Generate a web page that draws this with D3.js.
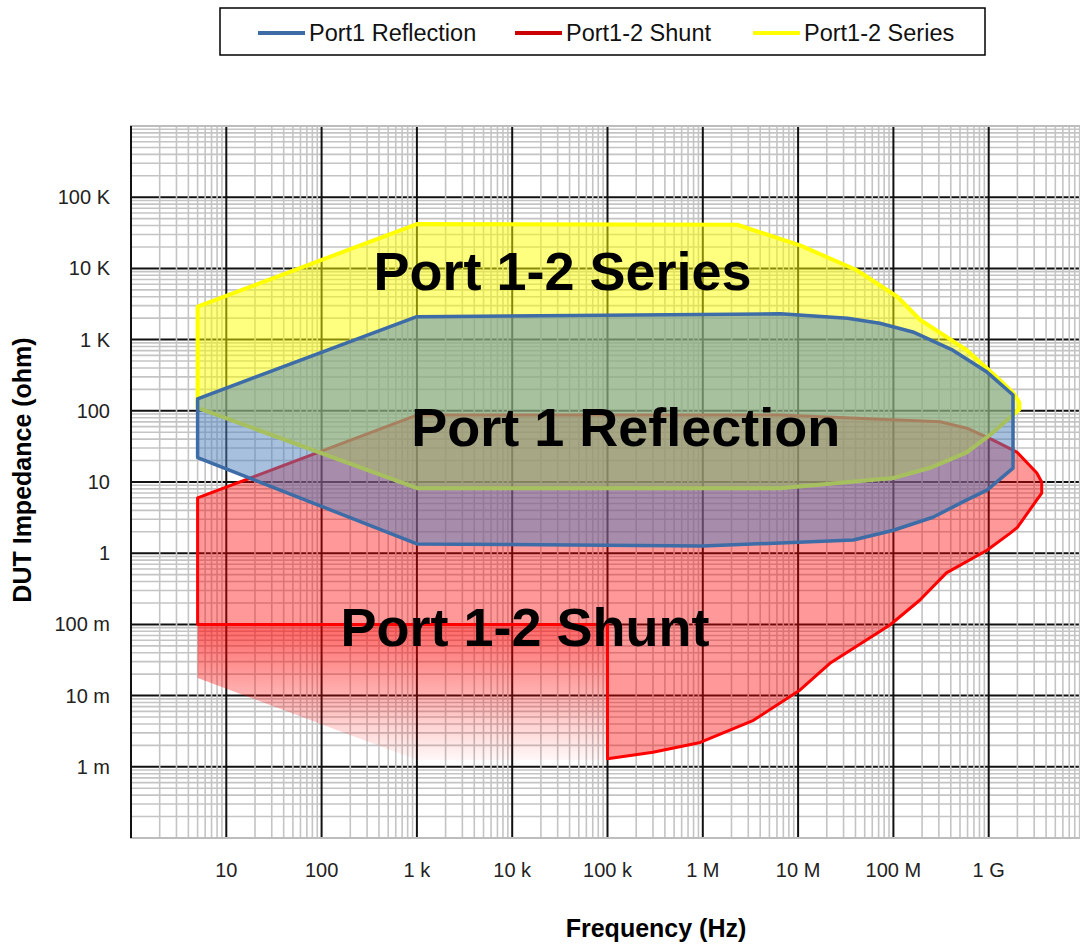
<!DOCTYPE html>
<html>
<head>
<meta charset="utf-8">
<script src="https://cdn.jsdelivr.net/npm/d3@7"></script>
<style>
  body { margin: 0; background: #fff; }
  svg { display: block; }
  text { font-family: "Liberation Sans", Arial, sans-serif; }
</style>
</head>
<body>
<svg id="chart" width="1080" height="945"></svg>
<script>
// Axis ticks
const freqTicks = [10, 100, 1e3, 1e4, 1e5, 1e6, 1e7, 1e8, 1e9];
const freqTickLabels = ["10", "100", "1 k", "10 k", "100 k", "1 M", "10 M", "100 M", "1 G"];
const impTicks = [1e5, 1e4, 1e3, 100, 10, 1, 0.1, 0.01, 0.001];
const impTickLabels = ["100 K", "10 K", "1 K", "100", "10", "1", "100 m", "10 m", "1 m"];

// Port1-2 Series coverage (Hz, ohm), traced around the outline
const seriesFreq = [5, 1000, 2.3e6, 1.05e7, 4.1e7, 1.1e8, 1.9e8, 5.9e8, 1.2e9, 1.8e9, 2.1e9, 2.1e9, 1.7e9, 1.1e9, 5.9e8, 2.4e8, 1e8, 6.5e6, 1000, 5];
const seriesImp  = [2900, 42000, 41000, 21000, 9500, 4000, 1900, 710, 300, 180, 130, 105, 82, 49, 26, 15.7, 11.4, 8.2, 8.2, 110];

// Port1 Reflection coverage
const reflFreq = [5, 1000, 6.5e6, 3.3e7, 7.2e7, 1.6e8, 4.2e8, 9.6e8, 1.8e9, 1.8e9, 9.6e8, 5.9e8, 2.6e8, 1e8, 3.8e7, 1e6, 1000, 5];
const reflImp  = [147, 2100, 2300, 2000, 1700, 1280, 710, 350, 167, 15.7, 7.7, 5.6, 3.2, 2.1, 1.53, 1.26, 1.35, 22];

// Port1-2 Shunt coverage
const shuntFreq = [5, 1000, 6.5e6, 3.1e8, 5.9e8, 1.1e9, 1.8e9, 2.0e9, 3.2e9, 3.6e9, 3.6e9, 3.2e9, 2.0e9, 1.67e9, 9.6e8, 3.6e8, 1.9e8, 9.2e7, 2.2e7, 1.05e7, 3.4e6, 9.4e5, 3.0e5, 1e5, 1e5, 5];
const shuntImp  = [6, 87, 87, 70, 57, 39, 28, 26, 13.4, 10, 7, 5.6, 2.3, 1.9, 1.1, 0.53, 0.22, 0.098, 0.029, 0.012, 0.0045, 0.0022, 0.0016, 0.0013, 0.1, 0.1];

// Extended (faded) Shunt range below 100 mohm
const shuntExtFreq = [5, 1e5, 1e5, 1000, 5];
const shuntExtImp  = [0.1, 0.1, 0.00125, 0.00125, 0.0177];

const legendNames = ["Port1 Reflection", "Port1-2 Shunt", "Port1-2 Series"];

const svg = d3.select("#chart");
const plot = { left: 131, right: 1084, top: 126, bottom: 838 };

const x = d3.scaleLog().domain([1, 1e10]).range([plot.left, plot.right]);
const y = d3.scaleLog().domain([1e-4, 1e6]).range([plot.bottom, plot.top]);

const defs = svg.append("defs");
defs.append("clipPath").attr("id", "plotClip")
  .append("rect")
  .attr("x", plot.left).attr("y", plot.top)
  .attr("width", plot.right - plot.left).attr("height", plot.bottom - plot.top);

const grad = defs.append("linearGradient")
  .attr("id", "shuntFade").attr("x1", 0).attr("y1", 0).attr("x2", 0).attr("y2", 1);
grad.append("stop").attr("offset", "0%").attr("stop-color", "#ff0000").attr("stop-opacity", 0.6);
grad.append("stop").attr("offset", "100%").attr("stop-color", "#ff0000").attr("stop-opacity", 0.03);

// Grid
const grid = svg.append("g").attr("clip-path", "url(#plotClip)");
const minorX = [], minorY = [];
for (let d = 0; d < 10; d++) for (let k = 2; k <= 9; k++) minorX.push(k * Math.pow(10, d));
for (let d = -4; d < 6; d++) for (let k = 2; k <= 9; k++) minorY.push(k * Math.pow(10, d));
const majorX = d3.range(0, 10).map(d => Math.pow(10, d));

grid.selectAll(".hminor").data(minorY).join("line")
  .attr("x1", plot.left).attr("x2", plot.right)
  .attr("y1", d => y(d)).attr("y2", d => y(d))
  .attr("stroke", "#c4c4c4").attr("stroke-width", 1.6);
grid.selectAll(".hmajor").data(impTicks).join("line")
  .attr("x1", plot.left).attr("x2", plot.right)
  .attr("y1", d => y(d)).attr("y2", d => y(d))
  .attr("stroke", "#111").attr("stroke-width", 2);
grid.selectAll(".vminor").data(minorX).join("line")
  .attr("y1", plot.top).attr("y2", plot.bottom)
  .attr("x1", d => x(d)).attr("x2", d => x(d))
  .attr("stroke", "#c4c4c4").attr("stroke-width", 1.6);
grid.selectAll(".vmajor").data(majorX).join("line")
  .attr("y1", plot.top).attr("y2", plot.bottom)
  .attr("x1", d => x(d)).attr("x2", d => x(d))
  .attr("stroke", "#111").attr("stroke-width", 2);

// Plot frame
svg.append("rect")
  .attr("x", plot.left).attr("y", plot.top)
  .attr("width", plot.right - plot.left).attr("height", plot.bottom - plot.top)
  .attr("fill", "none").attr("stroke", "#bdbdbd").attr("stroke-width", 2);
svg.append("line")
  .attr("x1", x(1)).attr("x2", x(1)).attr("y1", plot.top).attr("y2", plot.bottom)
  .attr("stroke", "#111").attr("stroke-width", 2);

// Regions
const toPts = (fs, zs) => fs.map((f, i) => [f, zs[i]]);
const shape = d3.line().x(d => x(d[0])).y(d => y(d[1])).curve(d3.curveLinearClosed);
const regions = svg.append("g").attr("clip-path", "url(#plotClip)");

regions.append("path").attr("d", shape(toPts(shuntExtFreq, shuntExtImp)))
  .attr("fill", "url(#shuntFade)").attr("stroke", "none");
regions.append("path").attr("d", shape(toPts(shuntFreq, shuntImp)))
  .attr("fill", "rgba(255,0,0,0.4)").attr("stroke", "#ff0000")
  .attr("stroke-width", 3).attr("stroke-linejoin", "round");
regions.append("path").attr("d", shape(toPts(seriesFreq, seriesImp)))
  .attr("fill", "rgba(255,255,0,0.5)").attr("stroke", "#ffff00")
  .attr("stroke-width", 4).attr("stroke-linejoin", "round");
regions.append("path").attr("d", shape(toPts(reflFreq, reflImp)))
  .attr("fill", "rgba(79,129,189,0.5)").attr("stroke", "#3e6ca6")
  .attr("stroke-width", 3.5).attr("stroke-linejoin", "round");

// Region labels
const bigLabel = (txt, f, z) => svg.append("text")
  .attr("x", x(f)).attr("y", y(z))
  .attr("font-size", 54).attr("font-weight", "bold").attr("fill", "#000")
  .text(txt);
bigLabel("Port 1-2 Series", 350, 5000);
bigLabel("Port 1 Reflection", 870, 32);
bigLabel("Port 1-2 Shunt", 158, 0.05);

// Tick labels
svg.append("g").selectAll("text").data(freqTicks).join("text")
  .attr("x", d => x(d)).attr("y", 877)
  .attr("text-anchor", "middle").attr("font-size", 20).attr("fill", "#222")
  .text((d, i) => freqTickLabels[i]);
svg.append("g").selectAll("text").data(impTicks).join("text")
  .attr("x", 110).attr("y", d => y(d) + 7)
  .attr("text-anchor", "end").attr("font-size", 20).attr("fill", "#222")
  .text((d, i) => impTickLabels[i]);

// Axis titles
svg.append("text").attr("x", 656).attr("y", 937)
  .attr("text-anchor", "middle").attr("font-size", 25).attr("font-weight", "bold")
  .text("Frequency (Hz)");
svg.append("text").attr("transform", "translate(31,470) rotate(-90)")
  .attr("text-anchor", "middle").attr("font-size", 25).attr("font-weight", "bold")
  .text("DUT Impedance (ohm)");

// Legend
const legend = svg.append("g");
legend.append("rect").attr("x", 220).attr("y", 8).attr("width", 765).attr("height", 47)
  .attr("fill", "#fff").attr("stroke", "#000").attr("stroke-width", 1.5);
const legendColors = ["#3e6ca6", "#cc0000", "#ffff00"];
const legendX = [258, 515, 753];
legendNames.forEach((name, i) => {
  legend.append("line").attr("x1", legendX[i]).attr("x2", legendX[i] + 47)
    .attr("y1", 33).attr("y2", 33)
    .attr("stroke", legendColors[i]).attr("stroke-width", 4);
  legend.append("text").attr("x", legendX[i] + 51).attr("y", 41)
    .attr("font-size", 23.5).attr("fill", "#111").text(name);
});
</script>
</body>
</html>
